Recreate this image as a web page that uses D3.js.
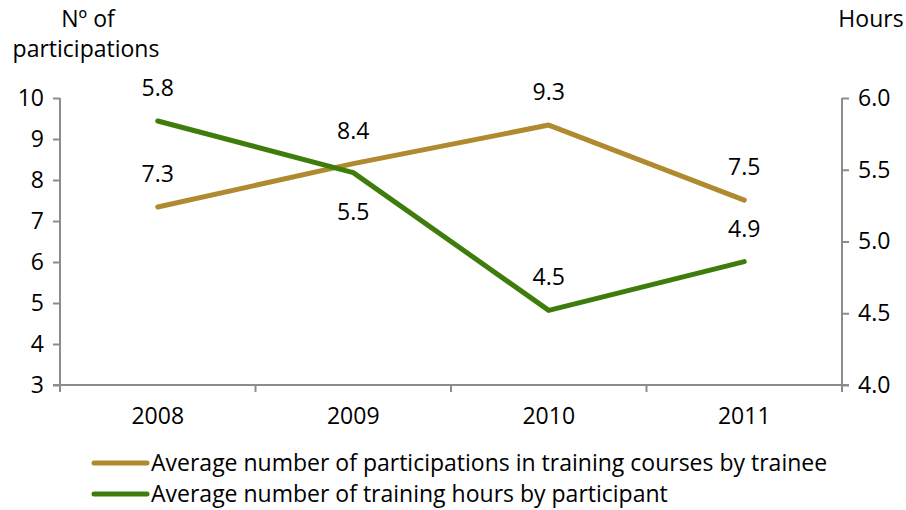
<!DOCTYPE html>
<html>
<head>
<meta charset="utf-8">
<script src="https://cdn.jsdelivr.net/npm/d3@7"></script>
<style>
  body { margin: 0; background: #fff; }
  text { font-family: "Open Sans", "Noto Sans", sans-serif; fill: #000; }
</style>
</head>
<body>
<div id="chart"></div>
<script>
var years = ["2008", "2009", "2010", "2011"];
var participations = [7.34, 8.4, 9.34, 7.51];
var hours = [5.84, 5.48, 4.52, 4.86];
var leftTicks = [3, 4, 5, 6, 7, 8, 9, 10];
var rightTicks = [4.0, 4.5, 5.0, 5.5, 6.0];
var seriesNames = ["Average number of participations in training courses by trainee",
                   "Average number of training hours by participant"];

var width = 906, height = 510;
var plotLeft = 60, plotRight = 842, plotTop = 98, plotBottom = 385;
var gold = "#B08A2E", green = "#3E7D0B", axisColor = "#8c8c8c";
var fs = 23;

var svg = d3.select("#chart").append("svg").attr("width", width).attr("height", height);

var x = d3.scaleBand().domain(years).range([plotLeft, plotRight]);
var yL = d3.scaleLinear().domain([3, 10]).range([plotBottom, plotTop]);
var yR = d3.scaleLinear().domain([4, 6]).range([plotBottom, plotTop]);

/* axes */
var gl = svg.append("g").attr("transform", "translate(" + plotLeft + ",0)")
    .call(d3.axisLeft(yL).tickValues(leftTicks).tickSize(7).tickPadding(9).tickFormat(d3.format("d")));
var gr = svg.append("g").attr("transform", "translate(" + plotRight + ",0)")
    .call(d3.axisRight(yR).tickValues(rightTicks).tickSize(7).tickPadding(9).tickFormat(d3.format(".1f")));
var gb = svg.append("g").attr("transform", "translate(0," + plotBottom + ")")
    .call(d3.axisBottom(x).tickSize(0).tickPadding(23));

// category separators on the x axis
gb.selectAll(".sep").data(d3.range(years.length + 1)).enter().append("line")
    .attr("x1", function(i) { return plotLeft + i * x.step(); })
    .attr("x2", function(i) { return plotLeft + i * x.step(); })
    .attr("y1", 0).attr("y2", 7)
    .attr("stroke", axisColor).attr("stroke-width", 2);

[gl, gr, gb].forEach(function(g) {
  g.select(".domain").attr("stroke", axisColor).attr("stroke-width", 2);
  g.selectAll(".tick line").attr("stroke", axisColor).attr("stroke-width", 2);
  g.selectAll(".tick text").attr("font-size", fs).attr("font-family", "Open Sans").attr("fill", "#000");
});
gl.select(".domain").attr("d", "M0," + plotTop + "V" + (plotBottom + 7));
gr.select(".domain").attr("d", "M0," + plotTop + "V" + (plotBottom + 7));
gb.select(".domain").attr("d", "M" + (plotLeft - 7) + ",0H" + (plotRight + 7));

/* axis titles */
svg.append("text").attr("x", 88).attr("y", 27).attr("text-anchor", "middle")
    .attr("font-size", fs).text("Nº of");
svg.append("text").attr("x", 86).attr("y", 57).attr("text-anchor", "middle")
    .attr("font-size", fs).text("participations");
svg.append("text").attr("x", 871).attr("y", 27).attr("text-anchor", "middle")
    .attr("font-size", fs).text("Hours");

/* lines */
var cx = function(i) { return x(years[i]) + x.bandwidth() / 2; };
var lineL = d3.line().x(function(d, i) { return cx(i); }).y(function(d) { return yL(d); });
var lineR = d3.line().x(function(d, i) { return cx(i); }).y(function(d) { return yR(d); });

svg.append("path").datum(participations).attr("d", lineL)
    .attr("fill", "none").attr("stroke", gold).attr("stroke-width", 5)
    .attr("stroke-linecap", "round").attr("stroke-linejoin", "round");
svg.append("path").datum(hours).attr("d", lineR)
    .attr("fill", "none").attr("stroke", green).attr("stroke-width", 5)
    .attr("stroke-linecap", "round").attr("stroke-linejoin", "round");

/* data labels: offset in px, negative = above */
var goldOffsets = [-25, -25, -25, -25];
var greenOffsets = [-25, 47, -25, -25];
var fmt = d3.format(".1f");

svg.selectAll(".lblP").data(participations).enter().append("text")
    .attr("x", function(d, i) { return cx(i); })
    .attr("y", function(d, i) { return yL(d) + goldOffsets[i]; })
    .attr("text-anchor", "middle").attr("font-size", fs)
    .text(function(d) { return fmt(d); });
svg.selectAll(".lblH").data(hours).enter().append("text")
    .attr("x", function(d, i) { return cx(i); })
    .attr("y", function(d, i) { return yR(d) + greenOffsets[i]; })
    .attr("text-anchor", "middle").attr("font-size", fs)
    .text(function(d) { return fmt(d); });

/* legend */
var leg = svg.selectAll(".leg").data(seriesNames).enter().append("g")
    .attr("transform", function(d, i) { return "translate(94," + (463 + i * 31) + ")"; });
leg.append("line").attr("x1", 0).attr("x2", 53).attr("y1", 0).attr("y2", 0)
    .attr("stroke", function(d, i) { return i == 0 ? gold : green; })
    .attr("stroke-width", 5).attr("stroke-linecap", "round");
leg.append("text").attr("x", 57).attr("y", 8).attr("font-size", fs)
    .text(function(d) { return d; });
</script>
</body>
</html>
